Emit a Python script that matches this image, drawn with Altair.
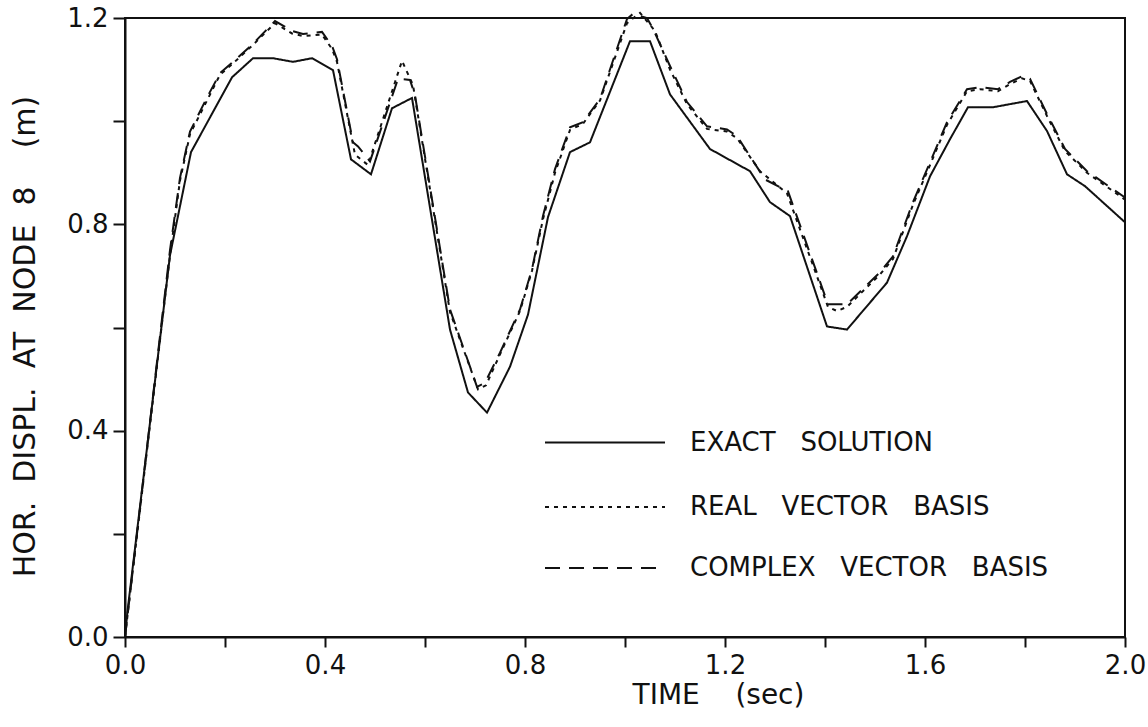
import altair as alt
import pandas as pd

# ---- data ----
t_exact = [0.0, 0.005, 0.09, 0.132, 0.214, 0.256, 0.296, 0.336, 0.374, 0.416, 0.452, 0.492,
           0.534, 0.574, 0.65, 0.686, 0.724, 0.77, 0.806, 0.846, 0.89, 0.93, 1.01, 1.05,
           1.09, 1.17, 1.25, 1.29, 1.33, 1.404, 1.444, 1.524, 1.564, 1.61, 1.65, 1.686,
           1.736, 1.804, 1.844, 1.884, 1.92, 2.0]
v_exact = [0.0, 0.05, 0.74, 0.94, 1.085, 1.122, 1.122, 1.115, 1.122, 1.099, 0.926, 0.897,
           1.025, 1.045, 0.596, 0.474, 0.435, 0.524, 0.625, 0.814, 0.94, 0.959, 1.155, 1.155,
           1.052, 0.946, 0.903, 0.843, 0.816, 0.602, 0.596, 0.687, 0.777, 0.893, 0.965, 1.027,
           1.027, 1.039, 0.981, 0.897, 0.874, 0.804]

t_real = [0.0, 0.09, 0.11, 0.13, 0.164, 0.19, 0.216, 0.256, 0.3, 0.334, 0.356, 0.394, 0.414,
          0.424, 0.46, 0.486, 0.554, 0.576, 0.65, 0.706, 0.722, 0.75, 0.79, 0.814, 0.836,
          0.86, 0.89, 0.916, 0.95, 1.004, 1.03, 1.06, 1.09, 1.124, 1.164, 1.204, 1.224, 1.27,
          1.324, 1.406, 1.424, 1.444, 1.51, 1.536, 1.576, 1.61, 1.644, 1.684, 1.71, 1.746,
          1.77, 1.794, 1.81, 1.844, 1.88, 1.924, 2.0]
v_real = [0.0, 0.74, 0.885, 0.975, 1.04, 1.09, 1.112, 1.148, 1.19, 1.17, 1.165, 1.168, 1.14,
          1.115, 0.935, 0.915, 1.117, 1.07, 0.63, 0.48, 0.488, 0.548, 0.632, 0.71, 0.81,
          0.9, 0.983, 0.995, 1.04, 1.19, 1.21, 1.175, 1.1, 1.033, 0.985, 0.98, 0.967, 0.903,
          0.86, 0.64, 0.632, 0.64, 0.703, 0.733, 0.838, 0.915, 0.993, 1.058, 1.062, 1.058,
          1.072, 1.083, 1.078, 1.01, 0.942, 0.9, 0.848]

t_complex = [0.0, 0.09, 0.11, 0.13, 0.164, 0.19, 0.216, 0.256, 0.3, 0.334, 0.356, 0.394, 0.414,
             0.424, 0.456, 0.466, 0.49, 0.546, 0.57, 0.58, 0.65, 0.704, 0.72, 0.75, 0.79,
             0.814, 0.836, 0.86, 0.89, 0.916, 0.95, 1.004, 1.016, 1.044, 1.056, 1.09, 1.124,
             1.164, 1.204, 1.224, 1.28, 1.326, 1.406, 1.444, 1.51, 1.536, 1.576, 1.61, 1.644,
             1.684, 1.71, 1.746, 1.77, 1.794, 1.81, 1.844, 1.88, 1.924, 2.0]
v_complex = [0.0, 0.75, 0.89, 0.98, 1.046, 1.093, 1.115, 1.15, 1.194, 1.175, 1.169, 1.173, 1.146,
             1.12, 0.959, 0.951, 0.922, 1.082, 1.08, 1.05, 0.635, 0.485, 0.493, 0.551, 0.635,
             0.713, 0.816, 0.907, 0.988, 0.998, 1.043, 1.198, 1.208, 1.2, 1.179, 1.107, 1.037,
             0.99, 0.984, 0.971, 0.887, 0.864, 0.645, 0.645, 0.707, 0.738, 0.843, 0.92, 0.998,
             1.062, 1.066, 1.062, 1.076, 1.087, 1.082, 1.014, 0.946, 0.903, 0.852]

series_names = ["EXACT SOLUTION", "REAL VECTOR BASIS", "COMPLEX VECTOR BASIS"]
SP = "\u00a0\u00a0\u00a0"
legend_labels = ["EXACT" + SP + "SOLUTION", "REAL" + SP + "VECTOR" + SP + "BASIS",
                 "COMPLEX" + SP + "VECTOR" + SP + "BASIS"]
x_ticks = [0.0, 0.2, 0.4, 0.6, 0.8, 1.0, 1.2, 1.4, 1.6, 1.8, 2.0]
y_ticks = [0.0, 0.2, 0.4, 0.6, 0.8, 1.0, 1.2]

# ---- tables ----
rows = []
for name, ts, vs in zip(series_names, [t_exact, t_real, t_complex],
                        [v_exact, v_real, v_complex]):
    assert len(ts) == len(vs)
    for i, (t, v) in enumerate(zip(ts, vs)):
        rows.append({"series": name, "t": t, "v": v, "order": i})
df = pd.DataFrame(rows)

# legend layout (in data units)
leg_y = [0.377, 0.252, 0.134]
legend_df = pd.DataFrame({
    "series": series_names,
    "label": legend_labels,
    "y": leg_y,
    "x0": [0.84] * 3,
    "x1": [1.08] * 3,
    "xt": [1.13] * 3,
})

FONT = "DejaVu Sans"
INK = "#111111"

dash_scale = alt.Scale(domain=series_names, range=[[1, 0], [4, 5], [15, 9]])

x_enc = alt.X(
    "t:Q",
    scale=alt.Scale(domain=[0, 2], nice=False, zero=False),
    axis=alt.Axis(
        values=x_ticks,
        labelExpr="round(datum.value*10) % 4 == 0 ? format(datum.value, '.1f') : ''",
        title="TIME\u00a0\u00a0\u00a0\u00a0(sec)",
        titleX=593, titleY=66, titleBaseline="alphabetic", titleAlign="center",
        tickSize=10, labelPadding=5, labelFlush=False, labelOverlap=False,
        grid=False,
    ),
)
y_enc = alt.Y(
    "v:Q",
    scale=alt.Scale(domain=[0, 1.2], nice=False, zero=False),
    axis=alt.Axis(
        values=y_ticks,
        labelExpr="round(datum.value*10) % 4 == 0 ? format(datum.value, '.1f') : ''",
        title="HOR.\u00a0\u00a0DISPL.\u00a0\u00a0AT\u00a0\u00a0NODE\u00a0\u00a08\u00a0\u00a0\u00a0\u00a0(m)",
        titleX=-100, titleY=318, titleAngle=270, titleAlign="center",
        titleBaseline="middle", titleFontSize=30,
        tickSize=12, labelPadding=5, labelFlush=False, labelOverlap=False,
        grid=False,
    ),
)

lines = alt.Chart(df).mark_line(strokeWidth=2, color=INK, clip=False).encode(
    x=x_enc,
    y=y_enc,
    strokeDash=alt.StrokeDash("series:N", scale=dash_scale, legend=None),
    detail="series:N",
    order="order:Q",
)

leg_rules = alt.Chart(legend_df).mark_rule(strokeWidth=2, color=INK).encode(
    x="x0:Q", x2="x1:Q", y="y:Q",
    strokeDash=alt.StrokeDash("series:N", scale=dash_scale, legend=None),
)
leg_text = alt.Chart(legend_df).mark_text(
    align="left", baseline="middle", fontSize=26, font=FONT, color=INK
).encode(x="xt:Q", y="y:Q", text="label:N")

chart = alt.layer(lines, leg_rules, leg_text).properties(
    width=1000, height=619,
    autosize=alt.AutoSizeParams(type="none"),
    padding={"left": 125, "top": 18, "right": 23, "bottom": 90},
    background="white",
).configure_view(
    stroke=INK, strokeWidth=2
).configure_axis(
    domainColor=INK, domainWidth=2, tickColor=INK, tickWidth=2,
    labelFont=FONT, labelFontSize=26, labelColor=INK,
    titleFont=FONT, titleFontSize=28, titleFontWeight="normal", titleColor=INK,
)

chart.save("out.html", embed_options={"renderer": "svg", "actions": False})
